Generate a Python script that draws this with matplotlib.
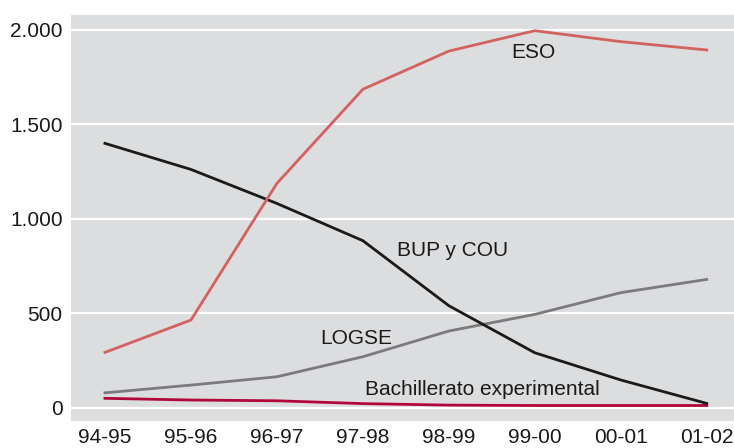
import matplotlib
matplotlib.use("Agg")
import matplotlib.pyplot as plt
from matplotlib.ticker import FuncFormatter

years = ["94-95", "95-96", "96-97", "97-98", "98-99", "99-00", "00-01", "01-02"]
eso = [293, 464, 1187, 1685, 1887, 1995, 1937, 1893]
bup_cou = [1399, 1261, 1081, 884, 540, 291, 147, 23]
logse = [79, 120, 164, 270, 406, 494, 609, 679]
bach_exp = [50, 41, 37, 22, 14, 12, 12, 12]
yticks = [0, 500, 1000, 1500, 2000]

plt.rcParams['font.family'] = ['Liberation Sans', 'DejaVu Sans']

fig = plt.figure(figsize=(7.34, 4.48), dpi=100)
ax = fig.add_axes([71/734, (448-421)/448, 1 - 71/734, (421-15)/448])
ax.set_facecolor('#dcdddf')
for s in ax.spines.values():
    s.set_visible(False)

x = list(range(len(years)))
for y in yticks:
    ax.axhline(y, color='white', lw=1.6, zorder=1)

ax.plot(x, logse, color='#7b7b7d', lw=2, zorder=3)
ax.plot(x, bach_exp, color='#b00838', lw=2, zorder=3)
ax.plot(x, bup_cou, color='#1a1a1a', lw=2, zorder=4)
ax.plot(x, eso, color='#d2625f', lw=2, zorder=4)

ax.set_xlim(-0.395, 7.317)
ax.set_ylim(-70, 2078)
ax.set_xticks(x)
ax.set_xticklabels(years)
ax.set_yticks(yticks)
ax.yaxis.set_major_formatter(FuncFormatter(lambda v, p: f"{int(v):,}".replace(",", ".")))
ax.tick_params(length=0, labelsize=15, colors='#1a1a1a')
ax.tick_params(axis='x', pad=5)
ax.tick_params(axis='y', pad=6)

fs = 15
ax.text(4.98, 1877, "ESO", fontsize=fs, ha='center', va='center', color='#1a1a1a')
ax.text(3.4, 834, "BUP y COU", fontsize=fs, ha='left', va='center', color='#1a1a1a')
ax.text(2.5, 369, "LOGSE", fontsize=fs, ha='left', va='center', color='#1a1a1a')
ax.text(3.02, 95, "Bachillerato experimental", fontsize=fs, ha='left', va='center', color='#1a1a1a')

fig.savefig("out.png", dpi=100)
